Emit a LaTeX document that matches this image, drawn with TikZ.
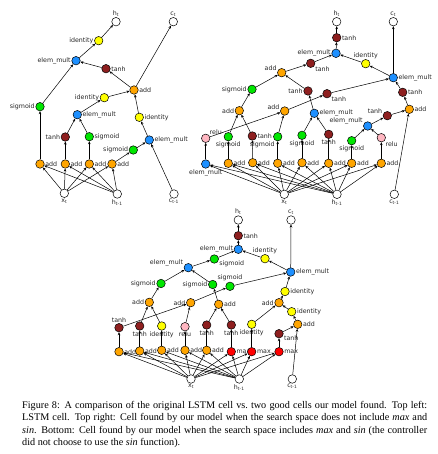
\documentclass[tikz,border=0pt]{standalone}
\usepackage{fontspec}
\setmainfont{Liberation Serif}
\newfontfamily\lblfamily{DejaVu Sans}
\usetikzlibrary{arrows.meta}
\definecolor{addcol}{HTML}{FFA500}
\definecolor{sigcol}{HTML}{00E600}
\definecolor{tanhcol}{HTML}{8E1F1F}
\definecolor{multcol}{HTML}{1E90FF}
\definecolor{idcol}{HTML}{FFFF00}
\definecolor{relucol}{HTML}{FFB6C1}
\definecolor{maxcol}{HTML}{FF0000}
\newcommand{\lblfont}{\lblfamily\fontsize{6.3}{7}\selectfont}

\begin{document}
\begin{tikzpicture}[x=1pt, y=-1pt,
  op/.style={circle, draw, line width=0.5pt, minimum size=8.5pt, inner sep=0pt},
  lbl/.style={font=\lblfont, inner sep=0.6pt, text=black!85},
  io/.style={op, fill=white},
  addop/.style={op, fill=addcol, label={[lbl]#1:add}}, addop/.default=right,
  sigop/.style={op, fill=sigcol, label={[lbl]#1:sigmoid}}, sigop/.default=right,
  tanhop/.style={op, fill=tanhcol, label={[lbl]#1:tanh}}, tanhop/.default=right,
  multop/.style={op, fill=multcol, label={[lbl]#1:elem\_mult}}, multop/.default=right,
  idop/.style={op, fill=idcol, label={[lbl]#1:identity}}, idop/.default=right,
  reluop/.style={op, fill=relucol, label={[lbl]#1:relu}}, reluop/.default=right,
  maxop/.style={op, fill=maxcol, label={[lbl]#1:max}}, maxop/.default=right,
  arr/.style={-{Stealth[length=3pt, width=2.6pt]}, line width=0.5pt}
]
  \useasboundingbox (0,0) rectangle (437,454);

  % top left: LSTM cell
  \node[io, label={[lbl]above:h\textsubscript{t}}] (a_ht) at (116,21.7) {};
  \node[io, label={[lbl]above:c\textsubscript{t}}] (a_ct) at (173.3,21.7) {};
  \node[idop=left] (a_id1) at (98.7,40.7) {};
  \node[multop=left] (a_em1) at (76,60.7) {};
  \node[tanhop] (a_th1) at (106,68.7) {};
  \node[addop] (a_ad1) at (134,90) {};
  \node[idop=left] (a_id2) at (104.3,97.7) {};
  \node[sigop=left] (a_sg1) at (40,106.7) {};
  \node[multop] (a_em2) at (77.3,114.7) {};
  \node[idop] (a_id3) at (139.3,117.3) {};
  \node[tanhop=left] (a_th2) at (65.3,137) {};
  \node[sigop] (a_sg2) at (89.3,136.7) {};
  \node[multop] (a_em3) at (149.3,140) {};
  \node[sigop=left] (a_sg3) at (133.3,150) {};
  \node[addop] (a_b1) at (40,164) {};
  \node[addop] (a_b2) at (65.3,164) {};
  \node[addop] (a_b3) at (89.3,164) {};
  \node[addop] (a_b4) at (112,164) {};
  \node[io, label={[lbl]below:x\textsubscript{t}}] (a_xt) at (64.3,193.3) {};
  \node[io, label={[lbl]below:h\textsubscript{t-1}}] (a_hp) at (117.3,194) {};
  \node[io, label={[lbl]below:c\textsubscript{t-1}}] (a_cp) at (174,194) {};

  \draw[arr] (a_id1) -- (a_ht);
  \draw[arr] (a_em1) -- (a_id1);
  \draw[arr] (a_th1) -- (a_em1);
  \draw[arr] (a_sg1) -- (a_em1);
  \draw[arr] (a_ad1) -- (a_th1);
  \draw[arr] (a_ad1) -- (a_ct);
  \draw[arr] (a_id2) -- (a_ad1);
  \draw[arr] (a_id3) -- (a_ad1);
  \draw[arr] (a_em2) -- (a_id2);
  \draw[arr] (a_th2) -- (a_em2);
  \draw[arr] (a_sg2) -- (a_em2);
  \draw[arr] (a_em3) -- (a_id3);
  \draw[arr] (a_sg3) -- (a_em3);
  \draw[arr] (a_cp) -- (a_em3);
  \draw[arr] (a_b1) -- (a_sg1);
  \draw[arr] (a_b2) -- (a_th2);
  \draw[arr] (a_b3) -- (a_sg2);
  \draw[arr] (a_b4) -- (a_sg3);
  \foreach \s in {a_xt,a_hp}
    \foreach \t in {a_b1,a_b2,a_b3,a_b4}
      \draw[arr] (\s) -- (\t);

  % top right: search space without max and sin
  \node[io, label={[lbl]above:h\textsubscript{t}}] (b_ht) at (336.7,21.7) {};
  \node[io, label={[lbl]above:c\textsubscript{t}}] (b_ct) at (393.3,21.7) {};
  \node[tanhop] (b_th1) at (336.7,37.7) {};
  \node[multop=left] (b_em1) at (336,53.3) {};
  \node[tanhop=-30] (b_th2) at (310.7,63.3) {};
  \node[idop=above] (b_id1) at (365.7,63.7) {};
  \node[addop=165] (b_ad1) at (281.7,72.7) {};
  \node[multop] (b_em2) at (393.3,77.7) {};
  \node[sigop=left] (b_sg1) at (252,89.3) {};
  \node[tanhop=left] (b_th3) at (308,91) {};
  \node[tanhop=-30] (b_th4) at (327,93.7) {};
  \node[tanhop] (b_th5) at (402.7,92.3) {};
  \node[addop=left] (b_ad2) at (239.3,110.7) {};
  \node[addop=170] (b_ad3) at (284.7,111) {};
  \node[multop] (b_em3) at (314.3,113.3) {};
  \node[tanhop=165] (b_th6) at (387.3,115.7) {};
  \node[addop] (b_ad4) at (409.3,109.3) {};
  \node[multop=160] (b_em4) at (367.7,126) {};
  \node[reluop=45] (b_rl1) at (205.7,138.3) {};
  \node[sigop=below] (b_sg2) at (228.3,136.7) {};
  \node[tanhop] (b_th7) at (252.3,136) {};
  \node[sigop=-120] (b_sg3) at (277.7,136.7) {};
  \node[sigop=below] (b_sg4) at (302,135.3) {};
  \node[tanhop=below] (b_th8) at (328.7,134.3) {};
  \node[sigop=below] (b_sg5) at (351.7,140.7) {};
  \node[reluop=-40] (b_rl2) at (381.3,137.7) {};
  \node[multop=below] (b_em5) at (205.7,164) {};
  \node[addop] (b_b1) at (228.3,163.3) {};
  \node[addop] (b_b2) at (252.7,162.7) {};
  \node[addop] (b_b3) at (277.7,163.3) {};
  \node[addop] (b_b4) at (302,162.7) {};
  \node[addop] (b_b5) at (328.7,163.3) {};
  \node[addop] (b_b6) at (351.7,163.3) {};
  \node[addop] (b_b7) at (381.3,163.3) {};
  \node[io, label={[lbl]below:x\textsubscript{t}}] (b_xt) at (284.3,194.3) {};
  \node[io, label={[lbl]below:h\textsubscript{t-1}}] (b_hp) at (337,194.3) {};
  \node[io, label={[lbl]below:c\textsubscript{t-1}}] (b_cp) at (394.3,194.3) {};

  \draw[arr] (b_th1) -- (b_ht);
  \draw[arr] (b_em1) -- (b_th1);
  \draw[arr] (b_th2) -- (b_em1);
  \draw[arr] (b_id1) -- (b_em1);
  \draw[arr] (b_em2) -- (b_id1);
  \draw[arr] (b_em2) -- (b_ct);
  \draw[arr] (b_ad1) -- (b_th2);
  \draw[arr] (b_sg1) -- (b_ad1);
  \draw[arr] (b_th3) -- (b_ad1);
  \draw[arr] (b_th4) -- (b_em2);
  \draw[arr] (b_th5) -- (b_em2);
  \draw[arr] (b_ad4) -- (b_th5);
  \draw[arr] (b_th6) -- (b_ad4);
  \draw[arr] (b_cp) -- (b_ad4);
  \draw[arr] (b_em4) -- (b_th6);
  \draw[arr] (b_sg5) -- (b_em4);
  \draw[arr] (b_rl2) -- (b_em4);
  \draw[arr] (b_ad2) -- (b_sg1);
  \draw[arr] (b_sg2) -- (b_ad2);
  \draw[arr] (b_th7) -- (b_ad2);
  \draw[arr] (b_ad3) -- (b_th4);
  \draw[arr] (b_rl1) -- (b_ad3);
  \draw[arr] (b_sg3) -- (b_ad3);
  \draw[arr] (b_em3) -- (b_th3);
  \draw[arr] (b_sg4) -- (b_em3);
  \draw[arr] (b_th8) -- (b_em3);
  \draw[arr] (b_em5) -- (b_rl1);
  \draw[arr] (b_b1) -- (b_sg2);
  \draw[arr] (b_b2) -- (b_th7);
  \draw[arr] (b_b3) -- (b_sg3);
  \draw[arr] (b_b4) -- (b_sg4);
  \draw[arr] (b_b5) -- (b_th8);
  \draw[arr] (b_b6) -- (b_sg5);
  \draw[arr] (b_b7) -- (b_rl2);
  \foreach \s in {b_xt,b_hp}
    \foreach \t in {b_em5,b_b1,b_b2,b_b3,b_b4,b_b5,b_b6,b_b7}
      \draw[arr] (\s) -- (\t);

  % bottom: search space with max and sin
  \node[io, label={[lbl]above:h\textsubscript{t}}] (c_ht) at (238.3,220) {};
  \node[io, label={[lbl]above:c\textsubscript{t}}] (c_ct) at (291,220) {};
  \node[tanhop] (c_th1) at (238.3,235.7) {};
  \node[multop=left] (c_em1) at (238.3,249.3) {};
  \node[idop=above] (c_id1) at (265,258.7) {};
  \node[sigop=-15] (c_sg1) at (214.3,259) {};
  \node[multop=170] (c_em2) at (188.3,267.7) {};
  \node[multop] (c_em3) at (290.7,272) {};
  \node[sigop=left] (c_sg2) at (161,283.5) {};
  \node[sigop=left] (c_sg3) at (212.7,284.5) {};
  \node[sigop=above] (c_sg4) at (230,286.3) {};
  \node[idop] (c_id2) at (285,291.5) {};
  \node[addop=left] (c_ad1) at (149.3,302.3) {};
  \node[addop=left] (c_ad2) at (190.7,302.7) {};
  \node[addop] (c_ad3) at (218.7,304.3) {};
  \node[addop=left] (c_ad4) at (279,302.7) {};
  \node[idop] (c_id3) at (291.7,311.7) {};
  \node[addop] (c_ad5) at (297.7,324.3) {};
  \node[tanhop=above] (c_th2) at (119,327.7) {};
  \node[tanhop=below] (c_th3) at (139.7,326) {};
  \node[idop=below] (c_id4) at (161.7,326) {};
  \node[reluop=below] (c_rl1) at (185,326.7) {};
  \node[tanhop=below] (c_th4) at (206.7,325) {};
  \node[tanhop=below] (c_th5) at (231.3,325) {};
  \node[idop=below] (c_id5) at (251.7,324.3) {};
  \node[tanhop=-20] (c_th6) at (279,333.7) {};
  \node[addop] (c_b1) at (119,351.7) {};
  \node[addop] (c_b2) at (139.7,351) {};
  \node[addop] (c_b3) at (161.7,350.3) {};
  \node[addop] (c_b4) at (185,350.3) {};
  \node[addop] (c_b5) at (206.7,350.3) {};
  \node[maxop] (c_b6) at (231.3,351.7) {};
  \node[maxop] (c_b7) at (251.7,351.7) {};
  \node[maxop] (c_b8) at (279,351.7) {};
  \node[io, label={[lbl]below:x\textsubscript{t}}] (c_xt) at (191,379) {};
  \node[io, label={[lbl]below:h\textsubscript{t-1}}] (c_hp) at (239.3,379) {};
  \node[io, label={[lbl]below:c\textsubscript{t-1}}] (c_cp) at (292.3,379) {};

  \draw[arr] (c_th1) -- (c_ht);
  \draw[arr] (c_em1) -- (c_th1);
  \draw[arr] (c_sg1) -- (c_em1);
  \draw[arr] (c_id1) -- (c_em1);
  \draw[arr] (c_em3) -- (c_id1);
  \draw[arr] (c_em3) -- (c_ct);
  \draw[arr] (c_em2) -- (c_sg1);
  \draw[arr] (c_sg2) -- (c_em2);
  \draw[arr] (c_sg3) -- (c_em2);
  \draw[arr] (c_sg4) -- (c_em3);
  \draw[arr] (c_id2) -- (c_em3);
  \draw[arr] (c_ad1) -- (c_sg2);
  \draw[arr] (c_ad3) -- (c_sg3);
  \draw[arr] (c_ad2) -- (c_sg4);
  \draw[arr] (c_ad4) -- (c_id2);
  \draw[arr] (c_th3) -- (c_ad1);
  \draw[arr] (c_id4) -- (c_ad1);
  \draw[arr] (c_th2) -- (c_ad2);
  \draw[arr] (c_rl1) -- (c_ad2);
  \draw[arr] (c_th4) -- (c_ad3);
  \draw[arr] (c_th5) -- (c_ad3);
  \draw[arr] (c_id5) -- (c_ad4);
  \draw[arr] (c_id3) -- (c_ad4);
  \draw[arr] (c_ad5) -- (c_id3);
  \draw[arr] (c_th6) -- (c_ad5);
  \draw[arr] (c_cp) -- (c_ad5);
  \draw[arr] (c_b1) -- (c_th2);
  \draw[arr] (c_b2) -- (c_th3);
  \draw[arr] (c_b3) -- (c_id4);
  \draw[arr] (c_b4) -- (c_rl1);
  \draw[arr] (c_b5) -- (c_th4);
  \draw[arr] (c_b6) -- (c_th5);
  \draw[arr] (c_b7) -- (c_id5);
  \draw[arr] (c_b8) -- (c_th6);
  \foreach \s in {c_xt,c_hp}
    \foreach \t in {c_b1,c_b2,c_b3,c_b4,c_b5,c_b6,c_b7,c_b8}
      \draw[arr] (\s) -- (\t);

  % caption
  \node[anchor=north west, text width=405pt, align=justify, inner sep=0pt,
        font=\fontsize{10.2}{12.4}\selectfont] (caption) at (22,401)
    {Figure 8: A comparison of the original LSTM cell vs.\ two good cells our model found. Top left:\linebreak
     LSTM cell. Top right: Cell found by our model when the search space does not include \textit{max} and\linebreak
     \textit{sin}. Bottom: Cell found by our model when the search space includes \textit{max} and \textit{sin} (the controller\linebreak
     did not choose to use the \textit{sin} function).};
\end{tikzpicture}
\end{document}
